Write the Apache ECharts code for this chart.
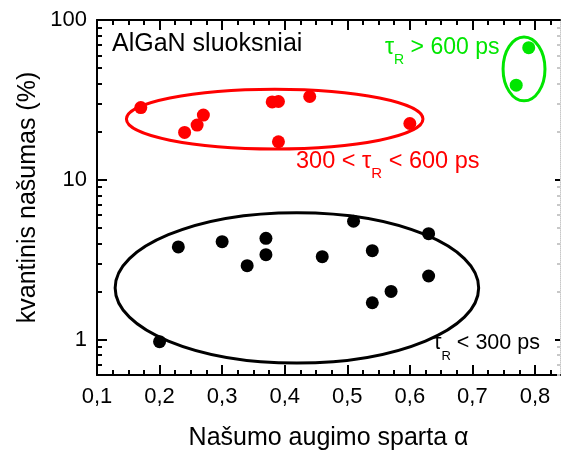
<!DOCTYPE html>
<html>
<head>
<meta charset="utf-8">
<script src="https://cdn.jsdelivr.net/npm/echarts@6/dist/echarts.min.js"></script>
<style>
  html, body { margin: 0; padding: 0; background: #ffffff; }
  #chart { width: 561px; height: 459px; }
</style>
</head>
<body>
<div id="chart"></div>
<script>
// Quantum efficiency of AlGaN layers against the efficiency growth rate α,
// grouped by the radiative lifetime τR.

// τR < 300 ps
const shortAlpha = [0.20, 0.23, 0.30, 0.34, 0.37, 0.37, 0.46, 0.51, 0.54, 0.54, 0.57, 0.63, 0.63];
const shortEff   = [0.97, 3.8,  4.1,  2.9,  4.3,  3.4,  3.3,  5.5,  3.6,  1.7,  2.0,  4.6,  2.5];
// 300 < τR < 600 ps
const midAlpha = [0.17, 0.24, 0.26, 0.27, 0.38, 0.39, 0.39, 0.44, 0.60];
const midEff   = [28.3, 19.8, 22.0, 25.4, 30.7, 30.9, 17.3, 33.2, 22.5];
// τR > 600 ps
const longAlpha = [0.77, 0.79];
const longEff   = [39.1, 67.1];

// Group outlines: [α from, α to] and [efficiency from, efficiency to]
const outlineAlpha = [[0.129, 0.710], [0.147, 0.621], [0.749, 0.816]];
const outlineEff   = [[0.713, 6.22], [15.6, 36.9], [31.2, 78.3]];

// Axis ticks and labels
const xMajor = [0.1, 0.2, 0.3, 0.4, 0.5, 0.6, 0.7, 0.8];
const xMinor = [0.125, 0.15, 0.175, 0.225, 0.25, 0.275, 0.325, 0.35, 0.375,
                0.425, 0.45, 0.475, 0.525, 0.55, 0.575, 0.625, 0.65, 0.675,
                0.725, 0.75, 0.775, 0.825];
const yMajor = [1, 10, 100];
const yMinor = [0.6, 0.7, 0.8, 0.9, 2, 3, 4, 5, 6, 7, 8, 9,
                20, 30, 40, 50, 60, 70, 80, 90];

const RED = '#ff0000', GREEN = '#00e600', BLACK = '#000000';
const FONT = '"Liberation Sans", Arial, sans-serif';

const zip = (a, b) => a.map((v, i) => [v, b[i]]);

function xAxisDef(position, ticks, len, withLine, withLabels) {
  return {
    type: 'value', position, min: 0.1, max: 0.84,
    splitLine: { show: false },
    axisLine: { show: withLine, onZero: false, lineStyle: { color: BLACK, width: 2 } },
    axisTick: { show: true, inside: true, length: len, customValues: ticks,
                lineStyle: { color: BLACK, width: 2 } },
    axisLabel: withLabels ? {
      show: true, customValues: xMajor, margin: 11,
      fontFamily: FONT, fontSize: 22, color: BLACK,
      formatter: v => v.toFixed(1).replace('.', ',')
    } : { show: false }
  };
}

function yAxisDef(position, ticks, len, lineStyle, tickColor, withLabels) {
  return {
    type: 'log', logBase: 10, position, min: 0.6, max: 100,
    splitLine: { show: false },
    axisLine: lineStyle ? { show: true, onZero: false, lineStyle } : { show: false },
    axisTick: { show: true, inside: true, length: len, customValues: ticks,
                lineStyle: { color: tickColor, width: 2 } },
    axisLabel: withLabels ? {
      show: true, customValues: yMajor, margin: 10,
      fontFamily: FONT, fontSize: 22, color: BLACK,
      formatter: v => String(Math.round(v))
    } : { show: false }
  };
}

const xAxes = [
  xAxisDef('bottom', xMajor, 10, true, true),
  xAxisDef('bottom', xMinor, 5, false, false),
  xAxisDef('top', xMajor, 10, true, false),
  xAxisDef('top', xMinor, 5, false, false)
];
Object.assign(xAxes[0], {
  name: 'Našumo augimo sparta α', nameLocation: 'middle', nameGap: 51,
  nameMoveOverlap: false,
  nameTextStyle: { fontFamily: FONT, fontSize: 25, color: BLACK }
});

const yAxes = [
  yAxisDef('left', yMajor, 10, { color: BLACK, width: 2 }, BLACK, true),
  yAxisDef('left', yMinor, 5, null, BLACK, false),
  yAxisDef('right', yMajor, 5, { color: '#c8c8c8', width: 1, type: 'dotted' }, BLACK, false),
  yAxisDef('right', yMinor, 3, null, '#c8c8c8', false)
];
Object.assign(yAxes[0], {
  name: 'kvantinis našumas (%)', nameLocation: 'middle', nameGap: 56,
  nameMoveOverlap: false,
  nameTextStyle: { fontFamily: FONT, fontSize: 25, color: BLACK }
});

const outlineColors = [BLACK, RED, GREEN];
const outlineData = outlineAlpha.map((a, i) => [a[0], a[1], outlineEff[i][0], outlineEff[i][1]]);

function scatter(name, data, color) {
  return {
    name, type: 'scatter', data, symbol: 'circle', symbolSize: 13,
    itemStyle: { color, opacity: 1 }, xAxisIndex: 0, yAxisIndex: 0, z: 3
  };
}

// Annotation with τ and subscript R
function tauText(before, after, x, y, color, size) {
  return {
    type: 'text', x, y, z: 10,
    style: {
      text: (before ? '{m|' + before + '}' : '') + '{m|τ}{s|R}{m|' + after + '}',
      fill: color,
      rich: {
        m: { fontFamily: FONT, fontSize: size, lineHeight: 24, verticalAlign: 'top', fill: color },
        s: { fontFamily: FONT, fontSize: Math.round(size * 0.62), lineHeight: 48, fill: color }
      }
    }
  };
}

const option = {
  animation: false,
  backgroundColor: '#ffffff',
  grid: { left: 97, right: 1, top: 20, bottom: 84, containLabel: false },
  xAxis: xAxes,
  yAxis: yAxes,
  series: [
    {
      type: 'custom', name: 'outlines', data: outlineData,
      encode: { x: [0, 1], y: [2, 3] }, clip: false, z: 2,
      xAxisIndex: 0, yAxisIndex: 0,
      renderItem(params, api) {
        const p0 = api.coord([api.value(0), api.value(3)]);
        const p1 = api.coord([api.value(1), api.value(2)]);
        return {
          type: 'ellipse',
          shape: { cx: (p0[0] + p1[0]) / 2, cy: (p0[1] + p1[1]) / 2,
                   rx: Math.abs(p1[0] - p0[0]) / 2, ry: Math.abs(p1[1] - p0[1]) / 2 },
          style: { fill: 'none', stroke: outlineColors[params.dataIndex], lineWidth: 3 }
        };
      }
    },
    scatter('τR < 300 ps', zip(shortAlpha, shortEff), BLACK),
    scatter('300 < τR < 600 ps', zip(midAlpha, midEff), RED),
    scatter('τR > 600 ps', zip(longAlpha, longEff), GREEN)
  ],
  graphic: [
    { type: 'text', x: 112, y: 32, z: 10,
      style: { text: 'AlGaN sluoksniai', fontFamily: FONT, fontSize: 25, fill: BLACK } },
    tauText('', ' > 600 ps', 385, 36, GREEN, 23),
    tauText('300 < ', ' < 600 ps', 296, 150, RED, 23.5),
    tauText('', ' < 300 ps', 433, 332, BLACK, 21.5)
  ]
};

const chart = echarts.init(document.getElementById('chart'), null, { renderer: 'canvas' });
chart.setOption(option);
</script>
</body>
</html>
